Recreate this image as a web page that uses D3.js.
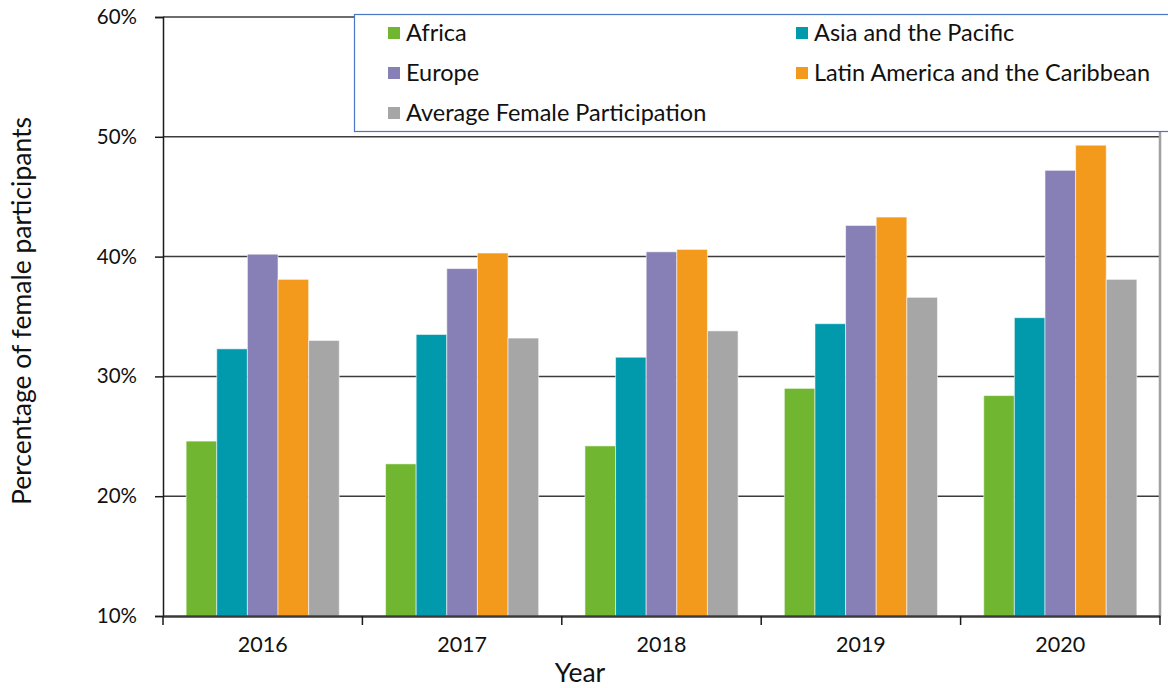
<!DOCTYPE html>
<html>
<head>
<meta charset="utf-8">
<script src="https://cdn.jsdelivr.net/npm/d3@7"></script>
<style>
  html, body { margin: 0; padding: 0; background: #fff; }
  svg { display: block; font-family: Lato, "Open Sans", sans-serif; }
</style>
</head>
<body>
<svg id="chart" width="1168" height="688"></svg>
<script>
const years = ["2016", "2017", "2018", "2019", "2020"];
const seriesNames = ["Africa", "Asia and the Pacific", "Europe", "Latin America and the Caribbean", "Average Female Participation"];
const africa = [24.6, 22.7, 24.2, 29.0, 28.4];
const asiaPacific = [32.3, 33.5, 31.6, 34.4, 34.9];
const europe = [40.2, 39.0, 40.4, 42.6, 47.2];
const latinAmerica = [38.1, 40.3, 40.6, 43.3, 49.3];
const averageFemale = [33.0, 33.2, 33.8, 36.6, 38.1];
const yTicks = [10, 20, 30, 40, 50, 60];
const colors = ["#71b631", "#019aad", "#8780b6", "#f39a1d", "#a6a6a6"];

const seriesValues = [africa, asiaPacific, europe, latinAmerica, averageFemale];
const rows = [];
years.forEach((yr, i) => {
  seriesNames.forEach((s, j) => rows.push({ year: yr, series: s, value: seriesValues[j][i], color: colors[j] }));
});

const svg = d3.select("#chart");
const pLeft = 163, pRight = 1160, pTop = 17, pBottom = 616;

const x0 = d3.scaleBand().domain(years).range([pLeft, pRight]).paddingInner(0).paddingOuter(0);
const bw = x0.bandwidth();
const x1 = d3.scaleBand().domain(seriesNames).range([bw * 0.116, bw * 0.884]).padding(0);
const y = d3.scaleLinear().domain([10, 60]).range([pBottom, pTop]);

// gridlines
svg.append("g")
  .selectAll("line")
  .data(yTicks.filter(t => t > 10))
  .join("line")
  .attr("x1", pLeft).attr("x2", pRight)
  .attr("y1", d => y(d)).attr("y2", d => y(d))
  .attr("stroke", "#3c3c3c").attr("stroke-width", 1.5);

// right border
svg.append("line")
  .attr("x1", pRight).attr("x2", pRight)
  .attr("y1", pTop).attr("y2", pBottom)
  .attr("stroke", "#a0a0a0").attr("stroke-width", 2.5);

// bars
svg.append("g")
  .selectAll("rect")
  .data(rows)
  .join("rect")
  .attr("x", d => x0(d.year) + x1(d.series))
  .attr("width", x1.bandwidth())
  .attr("y", d => y(d.value))
  .attr("height", d => y(10) - y(d.value))
  .attr("fill", d => d.color)
  .attr("stroke", "#ffffff").attr("stroke-opacity", 0.55).attr("stroke-width", 1);

// y axis
const yAxis = d3.axisLeft(y).tickValues(yTicks).tickFormat(d => d + "%").tickSize(8).tickPadding(18);
const gy = svg.append("g").attr("transform", `translate(${pLeft},0)`).call(yAxis);
gy.select(".domain").attr("stroke", "#1a1a1a").attr("stroke-width", 1.5);
gy.selectAll(".tick line").attr("stroke", "#1a1a1a").attr("stroke-width", 1.5);
gy.selectAll(".tick text").attr("font-size", 20.5).attr("fill", "#111").attr("font-family", "Lato, sans-serif");

// x axis
const xAxis = d3.axisBottom(x0).tickSize(0).tickPadding(21);
const gx = svg.append("g").attr("transform", `translate(0,${pBottom})`).call(xAxis);
gx.select(".domain").attr("stroke", "#3a3a3a").attr("stroke-width", 2.5);
gx.selectAll(".tick text").attr("font-size", 21.5).attr("fill", "#111").attr("font-family", "Lato, sans-serif");
// x boundary ticks
const boundaries = years.map(yv => x0(yv)).concat([pRight]);
gx.append("g").selectAll("line").data(boundaries).join("line")
  .attr("x1", d => d).attr("x2", d => d).attr("y1", 0).attr("y2", 9)
  .attr("stroke", "#1a1a1a").attr("stroke-width", 1.5);

// axis titles
svg.append("text")
  .attr("x", 580).attr("y", 682)
  .attr("text-anchor", "middle").attr("font-size", 26.5).attr("fill", "#111")
  .text("Year");
svg.append("text")
  .attr("transform", `translate(31,311) rotate(-90)`)
  .attr("text-anchor", "middle").attr("font-size", 26.5).attr("fill", "#111")
  .text("Percentage of female participants");

// legend
const lg = svg.append("g");
lg.append("rect")
  .attr("x", 354.5).attr("y", 14.5).attr("width", 830).attr("height", 117)
  .attr("fill", "#fff").attr("stroke", "#4a76c6").attr("stroke-width", 1.2);
const legendPos = [
  { x: 388, y: 33 }, { x: 796, y: 33 },
  { x: 388, y: 73 }, { x: 796, y: 73 },
  { x: 388, y: 113 }
];
const items = lg.selectAll("g.item").data(seriesNames).join("g").attr("class", "item")
  .attr("transform", (d, i) => `translate(${legendPos[i].x},${legendPos[i].y})`);
items.append("rect").attr("x", 0).attr("y", -6).attr("width", 12).attr("height", 12)
  .attr("fill", (d, i) => colors[i]);
items.append("text").attr("x", 18).attr("y", 0).attr("dy", "0.35em")
  .attr("font-size", 23.5).attr("fill", "#111").text(d => d);
</script>
</body>
</html>
